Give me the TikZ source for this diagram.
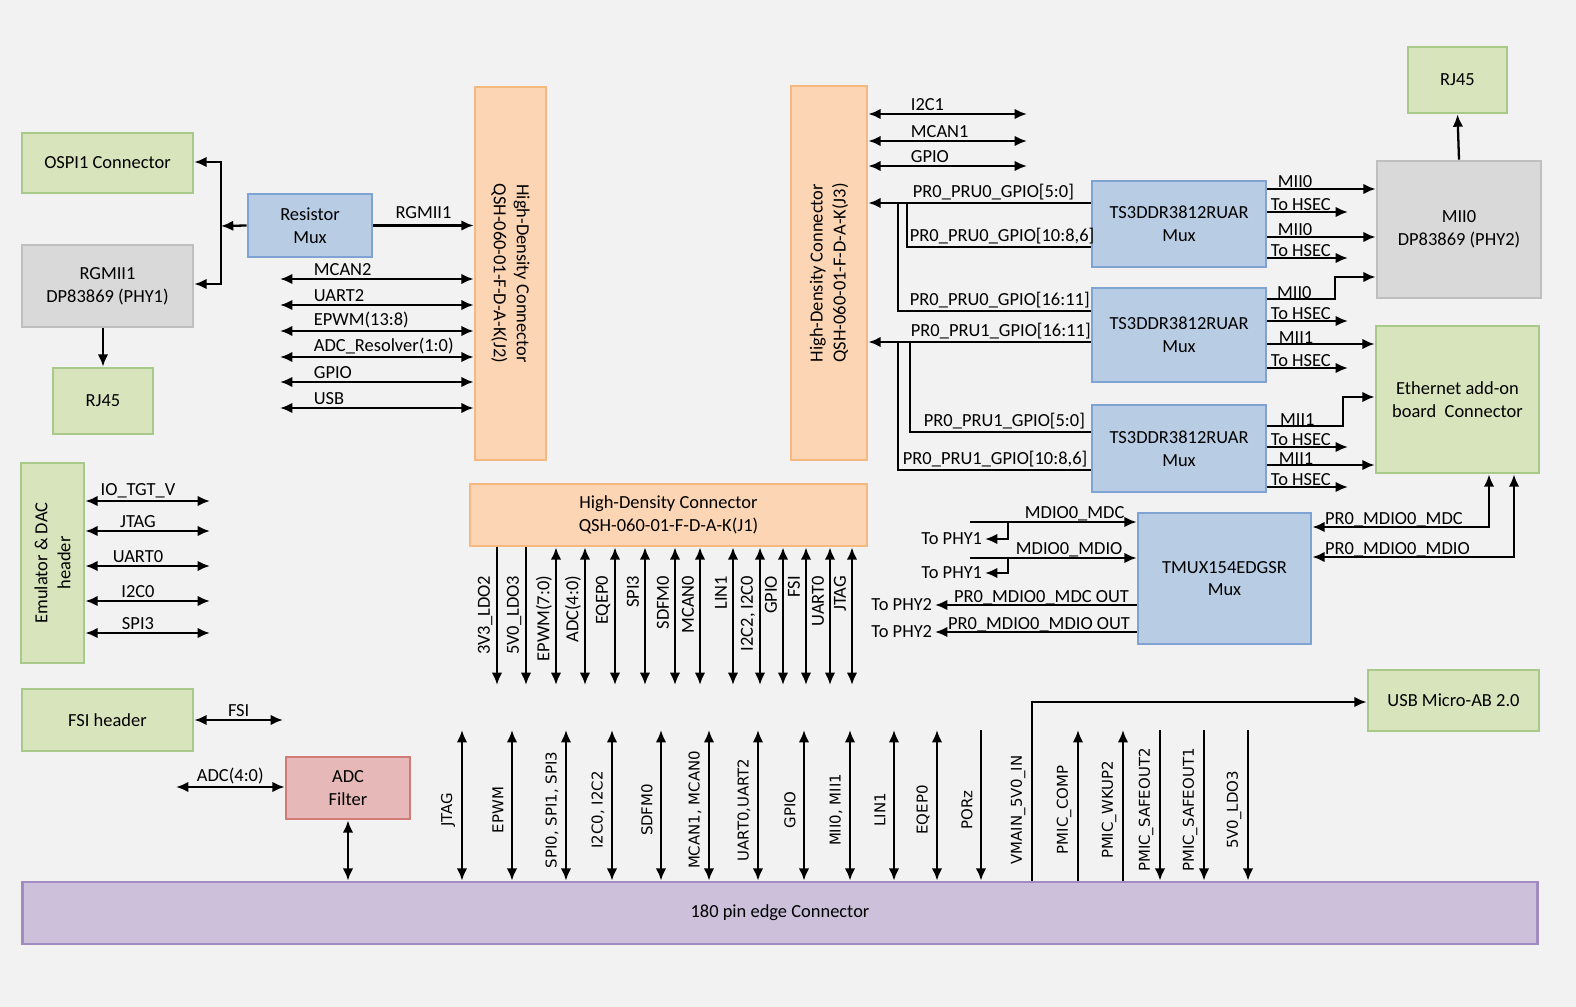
\documentclass[tikz,border=0pt]{standalone}
\usepackage{fontspec}
\setmainfont{Carlito}
\newfontfamily\vsans{DejaVu Sans}
\usetikzlibrary{arrows.meta, positioning, calc}
\definecolor{bgc}{HTML}{F2F2F2}
\definecolor{grnf}{HTML}{D8E4BC}
\definecolor{grnd}{HTML}{A9C98A}
\definecolor{gryf}{HTML}{D9D9D9}
\definecolor{gryd}{HTML}{BFBFBF}
\definecolor{bluf}{HTML}{B8CCE4}
\definecolor{blud}{HTML}{7FA4D4}
\definecolor{orgf}{HTML}{FCD5B4}
\definecolor{orgd}{HTML}{F5B87E}
\definecolor{redf}{HTML}{E6B9B8}
\definecolor{redd}{HTML}{D27B79}
\definecolor{purf}{HTML}{CCC0DA}
\definecolor{purd}{HTML}{A08CC0}
\tikzset{box/.style={draw, line width=1.6pt, align=center, inner sep=0pt},
         gbox/.style={box, fill=grnf, draw=grnd},
         ybox/.style={box, fill=gryf, draw=gryd},
         bbox/.style={box, fill=bluf, draw=blud},
         obox/.style={box, fill=orgf, draw=orgd},
         rbox/.style={box, fill=redf, draw=redd},
         pbox/.style={box, fill=purf, draw=purd},
         arr/.style={-{Latex[length=7pt,width=6pt]}, line width=1.3pt},
         rarr/.style={{Latex[length=7pt,width=6pt]}-, line width=1.3pt},
         biarr/.style={{Latex[length=7pt,width=6pt]}-{Latex[length=7pt,width=6pt]}, line width=1.3pt},
         wire/.style={line width=1.3pt},
         lab/.style={inner sep=1pt, font=\fontsize{10.5}{11}\selectfont},
         vlab/.style={inner sep=1pt, rotate=90, font=\vsans\fontsize{8.5}{9}\selectfont}}
\begin{document}
\begin{tikzpicture}[x=0.02cm, y=-0.02cm, font=\fontsize{10.5}{13}\selectfont]
    \fill[bgc] (0,0) rectangle (1576,1007);
    \useasboundingbox (0,0) rectangle (1576,1007);

    % Boxes
    \node[gbox, minimum width=3.42cm, minimum height=1.2cm] (ospi) at (107.5,163) {OSPI1 Connector};
    \node[ybox, minimum width=3.42cm, minimum height=1.64cm] (phy1) at (107.5,286) {RGMII1\\DP83869 (PHY1)};
    \node[gbox, minimum width=2.0cm, minimum height=1.32cm] (rjl) at (103,401) {RJ45};
    \node[bbox, minimum width=2.48cm, minimum height=1.26cm] (rmux) at (310,225.5) {Resistor\\Mux};
    \node[obox, minimum width=1.42cm, minimum height=7.46cm] (j2) at (510.5,273.5) {};
    \node[rotate=-90, align=center] (j2t) at (j2.center) {High-Density Connector\\QSH-060-01-F-D-A-K(J2)};
    \node[obox, minimum width=1.52cm, minimum height=7.48cm] (j3) at (829,273) {};
    \node[rotate=90, align=center] (j3t) at (j3.center) {High-Density Connector\\QSH-060-01-F-D-A-K(J3)};
    \node[obox, minimum width=7.94cm, minimum height=1.24cm] (j1) at (668.5,515) {High-Density Connector\\QSH-060-01-F-D-A-K(J1)};
    \node[gbox, minimum width=1.26cm, minimum height=4.0cm] (emu) at (52.5,563) {};
    \node[rotate=90, align=center] (emut) at (emu.center) {Emulator \& DAC\\header};
    \node[gbox, minimum width=3.42cm, minimum height=1.24cm] (fsi) at (107.5,720) {FSI header};
    \node[rbox, minimum width=2.48cm, minimum height=1.24cm] (adcf) at (348,788) {ADC\\Filter};
    \node[pbox, minimum width=30.32cm, minimum height=1.24cm] (edge) at (780,913) {180 pin edge Connector};
    \node[gbox, minimum width=1.98cm, minimum height=1.32cm] (rjr) at (1457.5,80) {RJ45};
    \node[ybox, minimum width=3.28cm, minimum height=2.74cm] (phy2) at (1459,229.5) {MII0\\DP83869 (PHY2)};
    \node[gbox, minimum width=3.26cm, minimum height=2.94cm] (eth) at (1457.5,399.5) {Ethernet add-on\\board~~Connector};
    \node[gbox, minimum width=3.42cm, minimum height=1.22cm] (usb) at (1453.5,700.5) {USB Micro-AB 2.0};
    \node[bbox, minimum width=3.48cm, minimum height=1.72cm] (m1) at (1179,224) {TS3DDR3812RUAR\\Mux};
    \node[bbox, minimum width=3.48cm, minimum height=1.88cm] (m2) at (1179,335) {TS3DDR3812RUAR\\Mux};
    \node[bbox, minimum width=3.48cm, minimum height=1.74cm] (m3) at (1179,448.5) {TS3DDR3812RUAR\\Mux};
    \node[bbox, minimum width=3.46cm, minimum height=2.62cm] (tmux) at (1224.5,578.5) {TMUX154EDGSR\\Mux};

    % Left side
    \draw[arr] (rmux.west) -- (221,226);
    \draw[arr] (221,226) |- (ospi.east |- 0,162);
    \draw[arr] (221,226) |- (phy1.east |- 0,284);
    \draw[arr] (phy1.south -| rjl.north) -- (rjl.north);
    \draw[arr] (rmux.east) -- (j2.west |- rmux.east) node[lab, midway, above=2pt] (rgl) {RGMII1};
    \foreach \y/\t in {279/MCAN2, 305/UART2, 331/EPWM(13:8), 357/ADC\_Resolver(1:0), 382/GPIO, 408/USB}
        \draw[biarr] (280,\y) -- (j2.west |- 0,\y) node[lab, anchor=south west] (l\y) at (311,\y) {\t};
    \foreach \y/\t in {501/IO\_TGT\_V, 531/JTAG, 566/UART0, 601/I2C0, 633/SPI3}
        \draw[biarr] (emu.east |- 0,\y) -- (210,\y) node[lab, anchor=south] (e\y) at (138,\y) {\t};
    \draw[biarr] (fsi.east) -- (283,720) node[lab, midway, above] (fsil) {FSI};
    \draw[biarr] (176,787) -- (adcf.west |- 0,787) node[lab, midway, above] (adcl) {ADC(4:0)};
    \draw[biarr] (adcf.south) -- (edge.north -| adcf.south);

    % J3 side
    \foreach \y/\t in {114/I2C1, 141/MCAN1, 166/GPIO}
        \draw[biarr] (j3.east |- 0,\y) -- (1027,\y) node[lab, anchor=south west] (r\y) at (908,\y) {\t};
    \draw[arr] (m1.west |- 0,203) -- (j3.east |- 0,203) node[lab, anchor=south west] (p1) at (910,203) {PR0\_PRU0\_GPIO[5:0]};
    \draw[wire] (898,203) -- (898,311) -- (m2.west |- 0,311) node[lab, anchor=south west] (p2) at (907,311) {PR0\_PRU0\_GPIO[16:11]};
    \draw[wire] (907,203) -- (907,247) -- (m1.west |- 0,247) node[lab, anchor=south west] (p3) at (907,247) {PR0\_PRU0\_GPIO[10:8,6]};
    \draw[arr] (m2.west |- 0,342) -- (j3.east |- 0,342) node[lab, anchor=south west] (p4) at (908,342) {PR0\_PRU1\_GPIO[16:11]};
    \draw[wire] (898,342) -- (898,470) -- (m3.west |- 0,470) node[lab, anchor=south west] (p5) at (900,470) {PR0\_PRU1\_GPIO[10:8,6]};
    \draw[wire] (910,342) -- (910,432) -- (m3.west |- 0,432) node[lab, anchor=south west] (p6) at (921,432) {PR0\_PRU1\_GPIO[5:0]};

    % Mux outputs
    \foreach \y/\t in {189/MII0, 237/MII0}
        \draw[arr] (m1.east |- 0,\y) -- (phy2.west |- 0,\y) node[lab, anchor=south west] (o\y) at (1275,\y+2) {\t};
    \foreach \y/\t in {344/MII1, 465/MII1}
        \draw[arr] (m2.east |- 0,\y) -- (eth.west |- 0,\y) node[lab, anchor=south west] (o\y) at (1276,\y+2) {\t};
    \foreach \y in {212, 258, 321, 368, 447, 487}
        \draw[arr] (m1.east |- 0,\y) -- (1348,\y) node[lab, anchor=south west] (h\y) at (1268,\y+2) {To HSEC};
    \draw[arr] (m2.east |- 0,299) -- (1335,299) -- (1335,277) -- (phy2.west |- 0,277);
    \node[lab, anchor=south west] (o299) at (1275,301) {MII0};
    \draw[arr] (m3.east |- 0,426) -- (1343,426) -- (1343,397) -- (eth.west |- 0,397);
    \node[lab, anchor=south west] (o426) at (1278,428) {MII1};
    \draw[arr] (phy2.north) -- (rjr.south);

    % TMUX
    \draw[biarr] (eth.south -| 1489,0) -- (1489,527) -- (tmux.east |- 0,527);
    \node[lab, anchor=south west] (t1) at (1323,529) {PR0\_MDIO0\_MDC};
    \draw[biarr] (eth.south -| 1514,0) -- (1514,557) -- (tmux.east |- 0,557);
    \node[lab, anchor=south west] (t2) at (1323,559) {PR0\_MDIO0\_MDIO};
    \draw[arr] (970,522) -- (tmux.west |- 0,522) node[lab, anchor=south west] (t3) at (1022,524) {MDIO0\_MDC};
    \draw[arr] (1008,522) -- (1008,539) -- (985,539) node[lab, anchor=east] (t4) {To PHY1};
    \draw[arr] (970,558) -- (tmux.west |- 0,558) node[lab, anchor=south west] (t5) at (1013,560) {MDIO0\_MDIO};
    \draw[arr] (1008,558) -- (1008,573) -- (985,573) node[lab, anchor=east] (t6) {To PHY1};
    \draw[arr] (tmux.west |- 0,605) -- (935,605) node[lab, anchor=east] (t7) {To PHY2};
    \node[lab, anchor=south west] (t8) at (952,607) {PR0\_MDIO0\_MDC OUT};
    \draw[arr] (tmux.west |- 0,632) -- (935,632) node[lab, anchor=east] (t9) {To PHY2};
    \node[lab, anchor=south west] (t10) at (946,634) {PR0\_MDIO0\_MDIO OUT};

    % J1 signals
    \foreach \x/\t/\s in {497/3V3\_LDO2/arr, 526/5V0\_LDO3/arr, 556/EPWM(7:0)/biarr, 585/ADC(4:0)/biarr,
                          615/EQEP0/biarr, 645/SPI3/biarr, 675/SDFM0/biarr, 700/MCAN0/biarr, 733/LIN1/biarr,
                          760/{I2C2, I2C0}/biarr, 783/GPIO/biarr, 806/FSI/biarr, 830/UART0/biarr, 852/JTAG/biarr}
        \draw[\s] (j1.south -| \x,0) -- (\x,685) node[lab, rotate=90, anchor=east] (j\x) at (\x-12,573) {\t};

    % Edge connector signals
    \foreach \x/\t/\s in {462/JTAG/biarr, 512/EPWM/biarr, 566/{SPI0, SPI1, SPI3}/biarr, 612/{I2C0, I2C2}/biarr,
                          661/SDFM0/biarr, 709/{MCAN1, MCAN0}/biarr, 758/{UART0,UART2}/biarr, 804/GPIO/biarr,
                          850/{MII0, MII1}/biarr, 894/LIN1/biarr, 937/EQEP0/biarr, 981/PORz/arr,
                          1078/PMIC\_COMP/rarr, 1123/PMIC\_WKUP2/rarr, 1160/PMIC\_SAFEOUT2/arr,
                          1204/PMIC\_SAFEOUT1/arr, 1248/5V0\_LDO3/arr}
        \draw[\s] (\x,730) -- (edge.north -| \x,0) node[vlab] (b\x) at (\x-14,810) {\t};
    \draw[arr] (edge.north -| 1032,0) -- (1032,702) -- (usb.west |- 0,702);
    \node[vlab] (b1032) at (1018,810) {VMAIN\_5V0\_IN};
\end{tikzpicture}
\end{document}
